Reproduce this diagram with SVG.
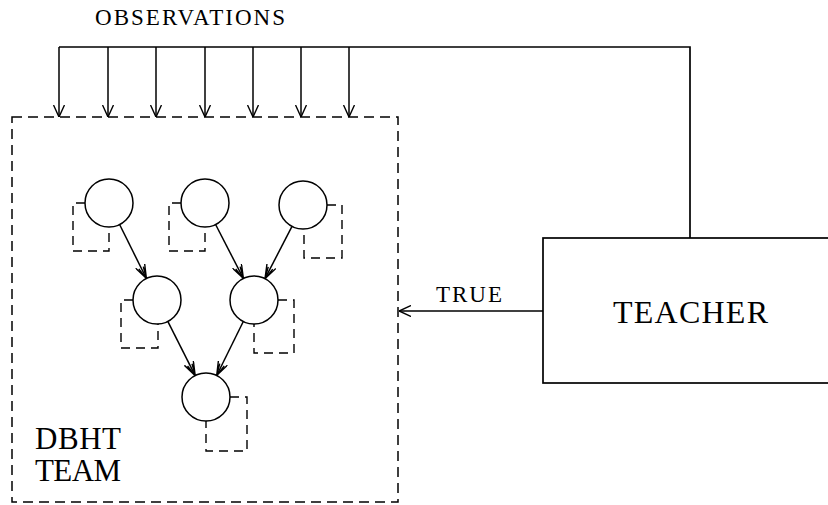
<svg xmlns="http://www.w3.org/2000/svg" width="828" height="505" viewBox="0 0 828 505">
  <defs>
    <marker id="head" viewBox="0 0 12 12" refX="12" refY="6" markerWidth="12" markerHeight="12" markerUnits="userSpaceOnUse" orient="auto">
      <path d="M0,0.5 L12,6 L0,11.5" fill="none" stroke="#000" stroke-width="1.4"/>
    </marker>
    <marker id="barb" viewBox="0 0 14 11" refX="14" refY="5.5" markerWidth="14" markerHeight="11" markerUnits="userSpaceOnUse" orient="auto">
      <path d="M0,0.5 L14,5.5 L0,10.5 M2,3 L14,5.5 L2,8" fill="none" stroke="#000" stroke-width="1.4"/>
    </marker>
  </defs>
  <style>
    .line { fill: none; stroke: #000; stroke-width: 1.7; }
    .arrow { fill: none; stroke: #000; stroke-width: 1.5; marker-end: url(#head); }
    .edge { fill: none; stroke: #000; stroke-width: 1.5; marker-end: url(#barb); }
    .node { fill: #fff; stroke: #000; stroke-width: 1.5; }
    .loop { fill: none; stroke: #000; stroke-width: 1.4; stroke-dasharray: 9 6; }
    .team { fill: none; stroke: #000; stroke-width: 1.5; stroke-dasharray: 10 6; }
    text { font-family: "Liberation Serif", "DejaVu Serif", serif; fill: #000; }
  </style>

  <rect width="828" height="505" fill="#fff"/>

  <!-- team boundary -->
  <g id="team">
    <rect class="team" x="12" y="117" width="386" height="385"/>
    <text x="35" y="449" font-size="31" textLength="86" lengthAdjust="spacing">DBHT</text>
    <text x="35" y="481" font-size="31" textLength="86" lengthAdjust="spacing">TEAM</text>
  </g>

  <!-- teacher -->
  <g id="teacher">
    <rect class="line" x="543" y="238" width="300" height="145"/>
    <text x="613" y="323" font-size="32" textLength="155" lengthAdjust="spacing">TEACHER</text>
  </g>

  <!-- DBHT nodes with their dashed self-loops -->
  <g id="n1">
    <path class="loop" d="M85,203 H73 V251 H109 V227"/>
    <circle class="node" cx="109" cy="203" r="24"/>
  </g>
  <g id="n2">
    <path class="loop" d="M181,203 H169 V251 H205 V227"/>
    <circle class="node" cx="205" cy="203" r="24"/>
  </g>
  <g id="n3">
    <path class="loop" d="M327,205 H342 V258 H304 V229"/>
    <circle class="node" cx="303" cy="205" r="24"/>
  </g>
  <g id="n4">
    <path class="loop" d="M133,300 H121 V348 H158 V324"/>
    <circle class="node" cx="157" cy="300" r="24"/>
  </g>
  <g id="n5">
    <path class="loop" d="M278,300 H294 V353 H254 V324"/>
    <circle class="node" cx="254" cy="300" r="24"/>
  </g>
  <g id="n6">
    <path class="loop" d="M230,397 H247 V451 H206 V421"/>
    <circle class="node" cx="206" cy="397" r="24"/>
  </g>

  <!-- connectors -->
  <g id="connectors">
    <!-- observation bus from teacher -->
    <path class="line" d="M690,238 V47 H59"/>
    <line class="arrow" x1="59" y1="47" x2="59" y2="117"/>
    <line class="arrow" x1="108" y1="47" x2="108" y2="117"/>
    <line class="arrow" x1="156" y1="47" x2="156" y2="117"/>
    <line class="arrow" x1="205" y1="47" x2="205" y2="117"/>
    <line class="arrow" x1="253" y1="47" x2="253" y2="117"/>
    <line class="arrow" x1="301" y1="47" x2="301" y2="117"/>
    <line class="arrow" x1="349" y1="47" x2="349" y2="117"/>
    <text x="95" y="25" font-size="23" textLength="190" lengthAdjust="spacing">OBSERVATIONS</text>

    <!-- true label to team -->
    <line class="arrow" x1="543" y1="311" x2="399" y2="311"/>
    <text x="436" y="302" font-size="23" textLength="66" lengthAdjust="spacing">TRUE</text>

    <!-- tree edges -->
    <line class="edge" x1="119.6" y1="224.5" x2="146.4" y2="278.5"/>
    <line class="edge" x1="215.6" y1="224.5" x2="243.4" y2="278.5"/>
    <line class="edge" x1="292" y1="226.3" x2="265" y2="278.7"/>
    <line class="edge" x1="167.8" y1="321.4" x2="195.2" y2="375.6"/>
    <line class="edge" x1="243.3" y1="321.5" x2="216.7" y2="375.5"/>
  </g>
</svg>
